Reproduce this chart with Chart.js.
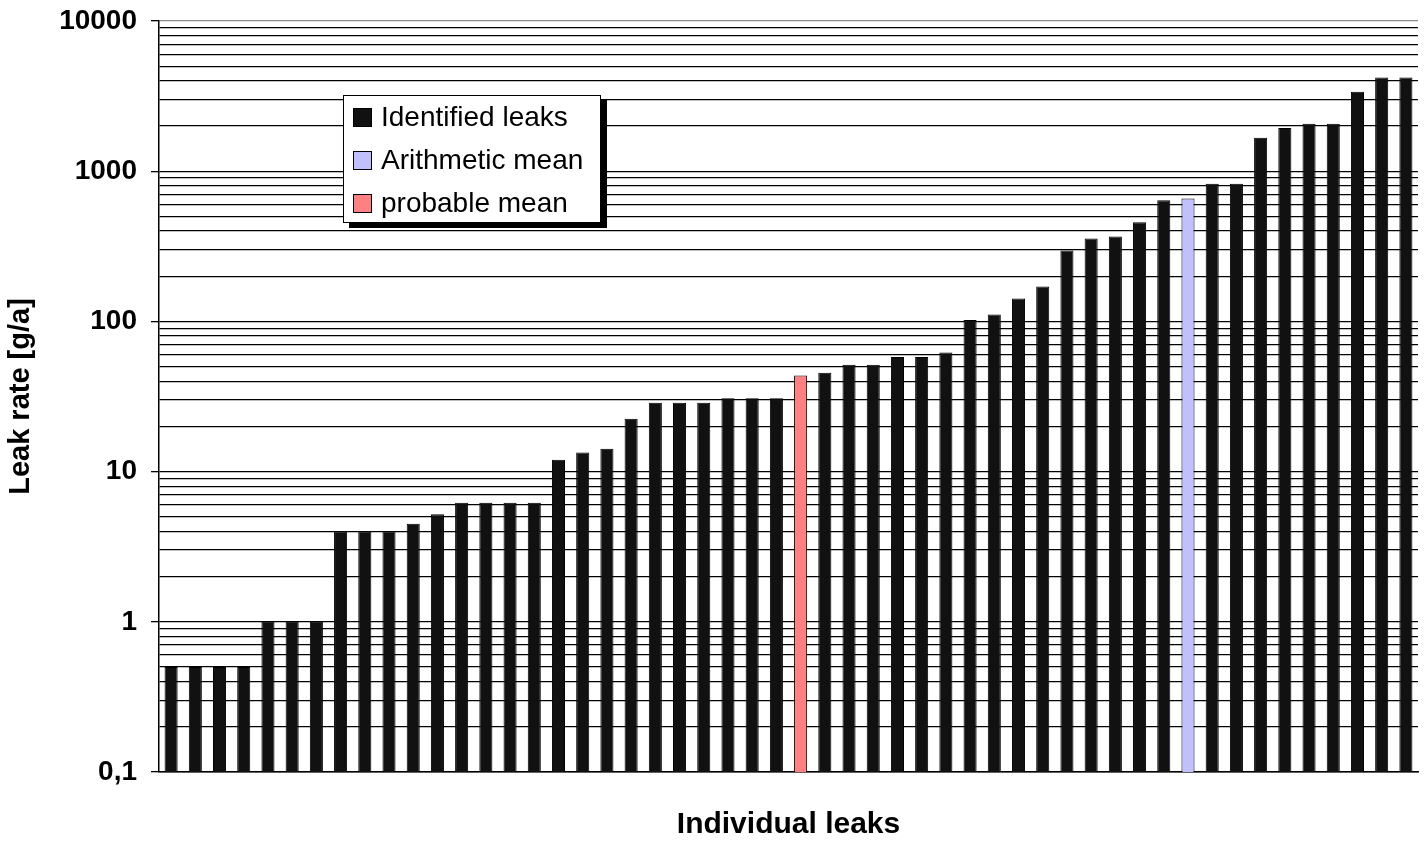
<!DOCTYPE html>
<html>
<head>
<meta charset="utf-8">
<script src="https://cdn.jsdelivr.net/npm/chart.js@4.4.1/dist/chart.umd.min.js"></script>
<style>
  body { margin: 0; background: #fff; }
  #wrap { position: relative; width: 1428px; height: 843px; }
  #legend {
    position: absolute; left: 343px; top: 95px; width: 256px; height: 126px;
    border: 1px solid #000; background: #fff; box-shadow: 6px 5px 0 #000;
    font-family: "Liberation Sans", Arial, sans-serif; font-size: 28px; color: #000;
  }
  .item { position: absolute; left: 9px; display: flex; align-items: center; white-space: nowrap; }
  .sw { width: 17px; height: 17px; border: 1px solid #000; margin-right: 9px; }
</style>
</head>
<body>
<div id="wrap">
  <canvas id="c" width="1428" height="843"></canvas>
  <div id="legend"></div>
</div>
<script>
// leak rates in g/a, sorted ascending
const leakRates = [
  0.5, 0.5, 0.5, 0.5, 1, 1, 1, 4, 4, 4,
  4.5, 5.2, 6.2, 6.2, 6.2, 6.2, 12, 13.4, 14.2, 22.5,
  28.7, 28.7, 28.7, 30.8, 30.8, 30.8, 43.6, 45.5, 51.4, 51.4,
  58, 58, 62, 102, 111, 142, 171, 297, 357, 368,
  457, 641, 658, 824, 824, 1670, 1936, 2070, 2070, 3380,
  4200, 4200
];
const probableMeanIdx = 26;
const arithmeticMeanIdx = 42;
const leakLabels = leakRates.map((_, i) => String(i + 1));

const legendLabels = ['Identified leaks', 'Arithmetic mean', 'probable mean'];
const legendColors = ['#111111', '#c0c0ff', '#ff8080'];

const barColors = leakRates.map((_, i) =>
  i === probableMeanIdx ? legendColors[2] : i === arithmeticMeanIdx ? legendColors[1] : legendColors[0]);

// legend (html, sits inside the plot)
document.getElementById('legend').innerHTML = legendLabels.map((l, i) =>
  `<div class="item" style="top:${5 + i * 43}px"><span class="sw" style="background:${legendColors[i]}"></span>${l}</div>`
).join('');

const isDecade = v => Math.abs(Math.log10(v) - Math.round(Math.log10(v))) < 1e-9;

new Chart(document.getElementById('c'), {
  type: 'bar',
  data: {
    labels: leakLabels,
    datasets: [{
      data: leakRates,
      backgroundColor: barColors,
      borderColor: '#000',
      borderWidth: 1,
      barPercentage: 0.54,
      categoryPercentage: 1
    }]
  },
  options: {
    responsive: false,
    animation: false,
    layout: { padding: { top: 21, right: 10, left: 0, bottom: 0 } },
    plugins: { legend: { display: false }, tooltip: { enabled: false } },
    scales: {
      x: {
        grid: { display: false },
        border: { display: true, color: '#000', width: 1.5 },
        ticks: { display: false },
        title: {
          display: true, text: 'Individual leaks', color: '#000',
          font: { family: '"Liberation Sans", Arial, sans-serif', size: 30, weight: 'bold' },
          padding: 0
        },
        afterFit: s => { s.height = 71; }
      },
      y: {
        type: 'logarithmic',
        min: 0.1,
        max: 10000,
        afterBuildTicks: s => {
          const t = [];
          for (let e = -1; e < 4; e++) {
            for (let m = 1; m <= 9; m++) t.push({ value: +(m * Math.pow(10, e)).toPrecision(3) });
          }
          t.push({ value: 10000 });
          s.ticks = t;
        },
        afterFit: s => { s.width = 159; s.paddingTop = 0; s.paddingBottom = 0; },
        border: { display: true, color: '#000', width: 1.5 },
        grid: {
          color: c => (c.tick && c.tick.value === 10000) ? '#8a8a8a' : '#000',
          lineWidth: 1.3,
          tickLength: 8,
          tickColor: c => (c.tick && isDecade(c.tick.value)) ? '#000' : 'rgba(0,0,0,0)'
        },
        ticks: {
          autoSkip: false,
          padding: 14,
          color: '#000',
          font: { family: '"Liberation Sans", Arial, sans-serif', size: 28, weight: 'bold' },
          callback: v => isDecade(v) ? String(v).replace('.', ',') : ''
        },
        title: {
          display: true, text: 'Leak rate [g/a]', color: '#000',
          font: { family: '"Liberation Sans", Arial, sans-serif', size: 29, weight: 'bold' },
          padding: { top: 4, bottom: 0 }
        }
      }
    }
  }
});
</script>
</body>
</html>
